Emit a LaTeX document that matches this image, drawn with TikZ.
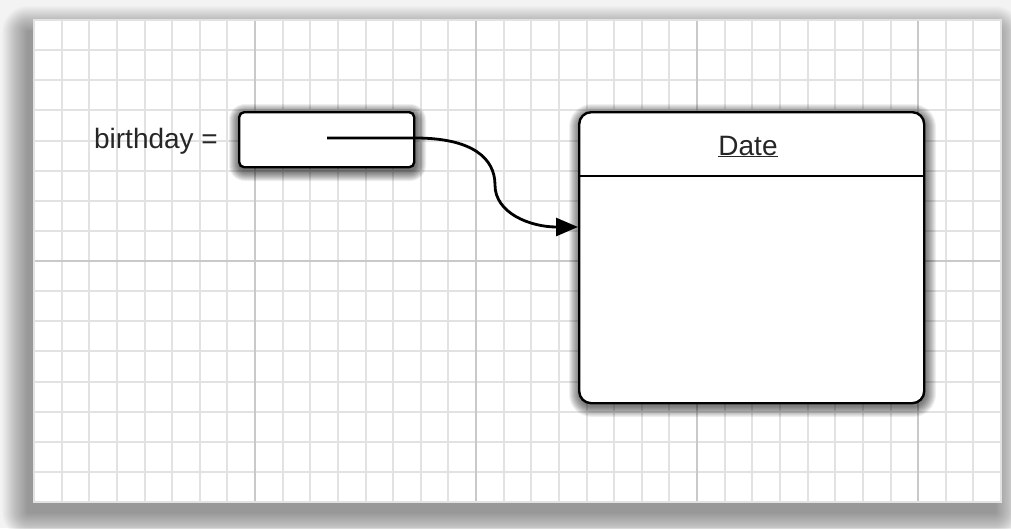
\documentclass[tikz,border=0pt]{standalone}
\usepackage{fontspec}
\setmainfont{Liberation Sans}
\usetikzlibrary{arrows.meta}
\definecolor{minorc}{HTML}{E2E2E2}
\definecolor{majorc}{HTML}{C9C9C9}
\definecolor{bgc}{HTML}{F3F3F3}
\begin{document}
\begin{tikzpicture}[x=1pt,y=-1pt,
  panel/.style={fill=white, inner sep=0pt, anchor=north west},
  shadowstep/.style={fill=black, fill opacity=#1},
  minor/.style={draw=minorc, line width=2pt},
  major/.style={draw=majorc, line width=2pt},
  boxbase/.style={draw=black, fill=white, line width=2.4pt, inner sep=0pt, anchor=north west},
  refbox/.style={boxbase, rounded corners=5pt},
  datebox/.style={boxbase, rounded corners=12pt},
  lbl/.style={font=\fontsize{28}{32}\selectfont, text=black!85, inner sep=0pt, anchor=base},
  conn/.style={draw=black, line width=2.8pt, -{Triangle[length=22pt,width=18pt]}},
  divider/.style={draw=black, line width=2.2pt}
]
\useasboundingbox (0,0) rectangle (1011,528);
\fill[bgc] (0,0) rectangle (1011,528);
% panel shadow
\foreach \i in {1,...,26}
  \fill[shadowstep=0.014, rounded corners={\i pt}] ({28-\i},{32-\i}) rectangle ({995+\i},{512+\i});
\node[panel, minimum width=967pt, minimum height=482pt] (panel) at (34,20) {};
% minor grid
\foreach \k in {1,...,34} \draw[minor] ({34+\k*27.629},20) -- ({34+\k*27.629},502);
\foreach \k in {1,...,15} \draw[minor] (34,{20+\k*30.125}) -- (1001,{20+\k*30.125});
% major grid
\foreach \k in {1,2,3,4} \draw[major] ({34+\k*8*27.629},20) -- ({34+\k*8*27.629},502);
\draw[major] (34,261) -- (1001,261);
\draw[minor] (34,20) rectangle (1001,502);
% box shadows
\foreach \i in {1,...,11}
  \fill[shadowstep=0.065, rounded corners={5pt+\i pt}] ({240-\i},{115-\i}) rectangle ({415+\i},{170+\i});
\foreach \i in {1,...,11}
  \fill[shadowstep=0.06, rounded corners={12pt+\i pt}] ({580-\i},{115-\i}) rectangle ({925+\i},{406+\i});
% nodes
\node[lbl] (lab) at (156,148) {birthday =};
\node[refbox, minimum width=175pt, minimum height=55pt] (ref) at (238,111) {};
\node[datebox, minimum width=345pt, minimum height=291pt] (date) at (578,111) {};
\coordinate (divl) at (578,176);
\coordinate (divr) at (923,176);
\draw[divider] (divl) -- (divr);
\node[lbl] (dt) at (748,155) {\underline{Date}};
% connector
\coordinate (start) at (327,138);
\coordinate (tip) at (578,227);
\draw[conn] (start) -- (ref.east |- start) .. controls (472,138) and (495,158) .. (495,185) .. controls (495,213) and (530,227) .. (tip);
\end{tikzpicture}
\end{document}
